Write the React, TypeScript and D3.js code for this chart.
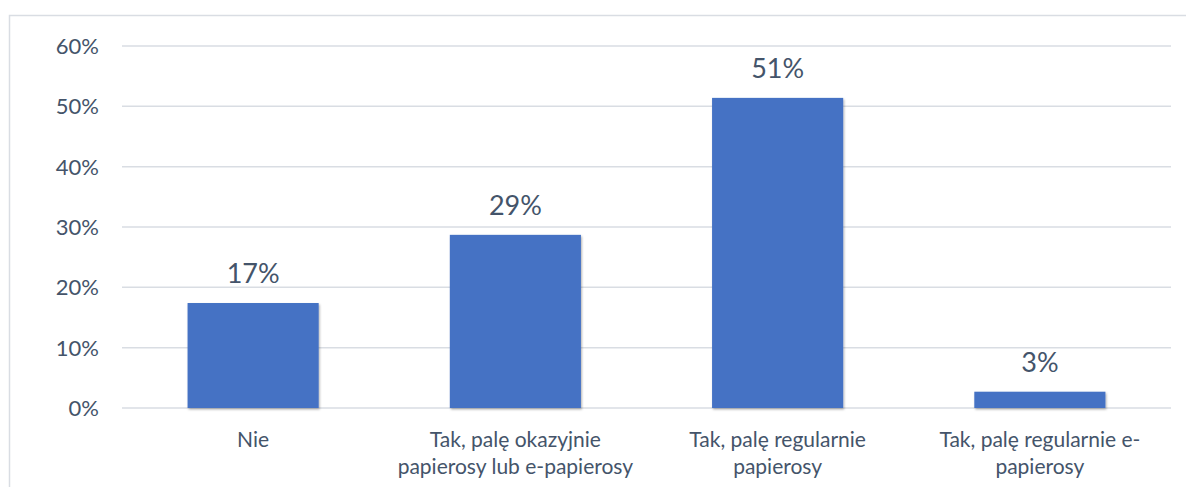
import React from "react";
import * as d3 from "d3";

const categories = [
  "Nie",
  "Tak, palę okazyjnie\npapierosy lub e-papierosy",
  "Tak, palę regularnie\npapierosy",
  "Tak, palę regularnie e-\npapierosy",
];
const values = [0.174, 0.287, 0.514, 0.027];
const valueLabels = ["17%", "29%", "51%", "3%"];
const yTicks = [0, 0.1, 0.2, 0.3, 0.4, 0.5, 0.6];

const W = 1186;
const H = 487;
const FONT = "Lato, 'Open Sans', sans-serif";
const TEXT = "#44546a";

export default function App() {
  const x = d3
    .scaleBand<string>()
    .domain(categories)
    .range([122, 1171])
    .paddingInner(0.5)
    .paddingOuter(0.25);
  const y = d3.scaleLinear().domain([0, 0.6]).range([408, 46]);
  const fmt = d3.format(".0%");

  return (
    <svg
      width={W}
      height={H}
      style={{ position: "absolute", left: 0, top: 0, background: "#fff" }}
      fontFamily={FONT}
    >
      <defs>
        <filter id="sh" x="-10%" y="-10%" width="130%" height="130%">
          <feDropShadow dx="1" dy="1.5" stdDeviation="1.2" floodColor="#000" floodOpacity="0.3" />
        </filter>
      </defs>
      <rect x={9.5} y={15.5} width={W} height={H} fill="#fff" stroke="#d9dde3" strokeWidth={1.5} />
      {yTicks.map((t) => (
        <g key={t}>
          <line x1={122} x2={1171} y1={y(t)} y2={y(t)} stroke="#d9dde3" strokeWidth={1.5} />
          <text
            x={99}
            y={y(t)}
            dy="0.36em"
            textAnchor="end"
            fontSize={22}
            fill={TEXT}
          >
            {fmt(t)}
          </text>
        </g>
      ))}
      {categories.map((c, i) => (
        <g key={c}>
          <rect
            x={x(c)!}
            y={y(values[i])}
            width={x.bandwidth()}
            height={y(0) - y(values[i])}
            fill="#4472c4"
            filter="url(#sh)"
          />
          <text
            x={x(c)! + x.bandwidth() / 2}
            y={y(values[i]) - 20}
            textAnchor="middle"
            fontSize={27}
            fill={TEXT}
          >
            {valueLabels[i]}
          </text>
          {c.split("\n").map((line, j) => (
            <text
              key={j}
              x={x(c)! + x.bandwidth() / 2}
              y={447 + j * 27}
              textAnchor="middle"
              fontSize={21}
              fill={TEXT}
            >
              {line}
            </text>
          ))}
        </g>
      ))}
    </svg>
  );
}
